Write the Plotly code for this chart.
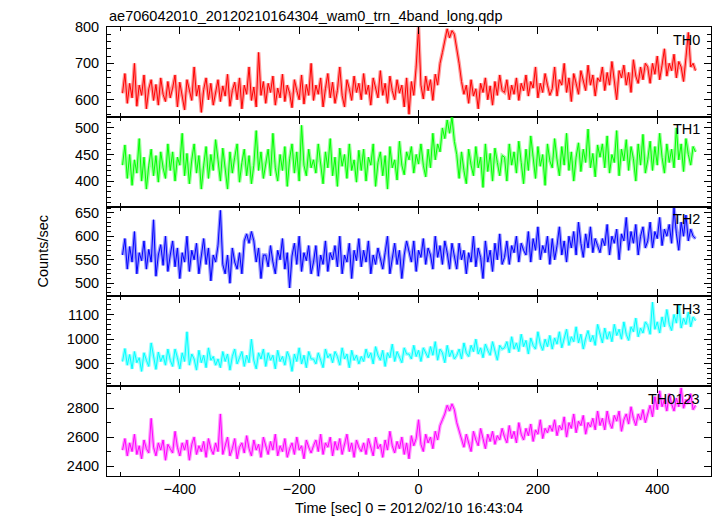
import plotly.graph_objects as go
from plotly.subplots import make_subplots

title_text = "ae706042010_20120210164304_wam0_trn_4band_long.qdp"
xlabel = "Time [sec] 0 = 2012/02/10 16:43:04"
ylabel = "Counts/sec"

t_start = -496
t_step = 4

TH0 = [618, 672, 590, 645, 605, 700, 582, 640, 612, 668, 575, 630, 655, 598, 642, 585, 660, 615, 595, 650,
       605, 632, 668, 580, 648, 610, 572, 655, 625, 598, 690, 610, 640, 565, 628, 660, 600, 645, 585, 622,
       655, 595, 638, 610, 670, 582, 625, 648, 600, 660, 575, 640, 615, 690, 598, 635, 580, 730, 612, 650,
       590, 645, 620, 665, 585, 632, 605, 670, 595, 640, 618, 578, 655, 625, 600, 668, 588, 642, 612, 700,
       598, 640, 615, 660, 580, 630, 672, 605, 648, 590, 625, 690, 612, 580, 655, 630, 598, 665, 620, 645,
       600, 672, 615, 640, 585, 660, 628, 605, 680, 612, 645, 590, 665, 625, 600, 655, 618, 640, 580, 660,
       560, 650, 612, 690, 800, 640, 602, 665, 625, 655, 598, 670, 640, 700, 730, 760, 795, 770, 790, 780,
       745, 700, 650, 615, 640, 590, 655, 610, 630, 575, 645, 620, 660, 600, 638, 585, 650, 612, 668, 625,
       620, 655, 600, 640, 615, 660, 598, 645, 625, 668, 610, 650, 632, 690, 605, 645, 620, 672, 640, 612,
       630, 690, 610, 655, 640, 700, 620, 660, 595, 672, 645, 615, 680, 650, 625, 695, 640, 668, 610, 660,
       650, 690, 625, 675, 640, 705, 655, 600, 680, 660, 695, 640, 675, 620, 710, 665, 645, 690, 655, 700,
       690, 645, 700, 670, 720, 655, 695, 740, 665, 700, 680, 725, 660, 705, 690, 650, 715, 785, 690, 700,
       680]
TH1 = [430, 468, 405, 450, 392, 440, 415, 480, 400, 445, 385, 430, 460, 410, 448, 398, 455, 425, 405, 470,
       420, 455, 400, 445, 430, 490, 410, 452, 395, 440, 470, 415, 448, 385, 430, 465, 405, 450, 420, 478,
       440, 400, 462, 425, 385, 455, 415, 445, 470, 398, 435, 460, 410, 448, 395, 430, 495, 420, 455, 405,
       435, 460, 410, 490, 425, 400, 450, 420, 465, 390, 442, 470, 415, 455, 400, 505, 430, 410, 460, 425,
       440, 415, 470, 430, 395, 455, 425, 480, 410, 445, 390, 462, 428, 450, 405, 470, 420, 440, 398, 458,
       420, 460, 400, 445, 430, 470, 390, 435, 455, 410, 448, 385, 465, 425, 440, 402, 475, 430, 412, 455,
       440, 465, 415, 450, 432, 470, 430, 408, 460, 425, 490, 440, 470, 455, 500, 480, 515, 490, 520, 475,
       450, 405, 455, 420, 395, 460, 430, 410, 465, 425, 445, 388, 470, 418, 452, 400, 462, 435, 410, 448,
       445, 400, 470, 430, 455, 415, 475, 435, 395, 460, 420, 485, 440, 405, 465, 428, 450, 392, 470, 438,
       425, 480, 440, 410, 465, 430, 490, 420, 455, 400, 445, 472, 418, 460, 435, 498, 425, 452, 408, 468,
       445, 470, 425, 485, 415, 450, 435, 495, 410, 460, 438, 478, 420, 465, 442, 400, 470, 430, 488, 415,
       440, 475, 420, 465, 430, 490, 445, 415, 470, 435, 460, 425, 500, 440, 470, 418, 480, 450, 430, 465,
       455]
TH2 = [560, 595, 530, 578, 545, 610, 520, 565, 548, 590, 530, 572, 545, 635, 515, 560, 582, 538, 600, 525,
       560, 590, 535, 575, 510, 565, 545, 600, 525, 570, 550, 585, 520, 562, 595, 540, 575, 505, 560, 545,
       580, 655, 540, 520, 560, 500, 575, 545, 530, 565, 520, 590, 605, 585, 610, 590, 545, 575, 510, 560,
       560, 535, 580, 545, 520, 570, 550, 595, 530, 565, 490, 558, 585, 540, 600, 525, 565, 548, 580, 520,
       545, 580, 515, 560, 540, 590, 525, 565, 550, 580, 535, 600, 520, 560, 545, 585, 510, 570, 548, 595,
       535, 570, 545, 590, 520, 560, 540, 575, 550, 530, 565, 600, 520, 555, 585, 540, 570, 510, 560, 590,
       565, 545, 590, 525, 570, 555, 595, 540, 575, 560, 530, 600, 555, 580, 540, 590, 565, 530, 585, 555,
       530, 585, 550, 570, 520, 565, 545, 600, 535, 575, 555, 510, 590, 545, 570, 525, 585, 550, 605, 540,
       555, 590, 540, 580, 565, 600, 545, 585, 570, 560, 610, 545, 595, 570, 620, 550, 580, 565, 600, 540,
       595, 550, 580, 620, 560, 590, 545, 600, 575, 610, 560, 630, 585, 555, 605, 575, 620, 565, 595, 580,
       565, 595, 580, 625, 560, 600, 585, 615, 550, 605, 590, 640, 570, 610, 585, 625, 560, 600, 620, 575,
       590, 630, 575, 610, 595, 640, 580, 615, 600, 625, 585, 660, 605, 570, 630, 600, 645, 590, 615, 600,
       595]
TH3 = [910, 962, 895, 938, 880, 950, 905, 925, 870, 945, 915, 890, 985, 925, 878, 948, 910, 935, 895, 960,
       915, 890, 960, 925, 880, 945, 910, 1030, 895, 940, 920, 875, 955, 905, 935, 885, 965, 915, 930, 895,
       920, 885, 950, 910, 940, 875, 930, 960, 900, 925, 950, 890, 935, 905, 1000, 915, 880, 945, 920, 960,
       890, 945, 915, 935, 880, 955, 910, 930, 895, 950, 925, 870, 940, 910, 965, 900, 935, 885, 950, 920,
       920, 900, 945, 915, 885, 960, 925, 940, 905, 950, 930, 895, 965, 920, 940, 885, 955, 915, 935, 900,
       930, 910, 960, 925, 945, 900, 970, 935, 915, 955, 890, 945, 925, 980, 910, 950, 930, 905, 965, 940,
       940, 920, 975, 930, 955, 910, 965, 945, 925, 970, 935, 990, 915, 960, 945, 905, 975, 930, 955, 920,
       935, 960, 920, 985, 945, 930, 975, 950, 1000, 940, 965, 925, 980, 955, 935, 990, 950, 915, 975, 960,
       965, 990, 945, 1010, 960, 985, 950, 1020, 970, 995, 940, 1005, 975, 960, 1030, 980, 955, 1000, 970, 1015,
       960, 1005, 980, 1030, 965, 1000, 1040, 975, 1010, 990, 1050, 985, 1020, 960, 1005, 1035, 990, 1015, 975, 1060,
       1025, 985, 1045, 1000, 1030, 990, 1060, 1015, 1040, 1000, 1070, 1020, 995, 1050, 1030, 1085, 1010, 1045, 1025, 1070,
       1055, 1020, 1150, 1040, 1070, 1025, 1090, 1050, 1120, 1060, 1035, 1100, 1065, 1140, 1045, 1085, 1060, 1110, 1050, 1090,
       1075]
TH0123 = [2510, 2590, 2470, 2560, 2500, 2620, 2480, 2540, 2450, 2580, 2520, 2490, 2730, 2530, 2470, 2560, 2510, 2580, 2440, 2550,
          2520, 2490, 2640, 2530, 2470, 2560, 2510, 2580, 2440, 2550, 2600, 2480, 2540, 2500, 2570, 2460, 2590, 2520, 2480, 2560,
          2500, 2760, 2480, 2540, 2600, 2470, 2520, 2590, 2450, 2530, 2560, 2490, 2610, 2520, 2470, 2580, 2510, 2550, 2460, 2600,
          2530, 2480, 2570, 2510, 2620, 2470, 2540, 2500, 2590, 2460, 2520, 2560, 2480, 2600, 2510, 2540, 2450, 2580, 2530, 2490,
          2540, 2580, 2500, 2620, 2480, 2560, 2530, 2600, 2470, 2570, 2510, 2590, 2480, 2550, 2620, 2500, 2560, 2460, 2580, 2530,
          2500, 2560, 2480, 2590, 2530, 2470, 2600, 2520, 2550, 2460, 2580, 2510, 2640, 2540, 2490, 2570, 2520, 2600, 2480, 2560,
          2450, 2610, 2540, 2590, 2720, 2550, 2500, 2620, 2560, 2600, 2520, 2640, 2580, 2680, 2720, 2760, 2820, 2780, 2830, 2790,
          2700, 2640, 2580, 2530, 2620, 2560, 2500, 2640, 2580, 2540, 2660, 2590, 2520, 2620, 2570, 2640, 2550, 2610, 2580, 2660,
          2600, 2560, 2680, 2590, 2640, 2560, 2700, 2620, 2580, 2660, 2610, 2690, 2570, 2650, 2620, 2720, 2590, 2660, 2630, 2680,
          2640, 2720, 2610, 2680, 2650, 2740, 2600, 2700, 2660, 2760, 2630, 2710, 2680, 2750, 2620, 2700, 2670, 2730, 2650, 2780,
          2680, 2730, 2650, 2780, 2700, 2660, 2750, 2710, 2780, 2640, 2720, 2760, 2690, 2810, 2730, 2680, 2760, 2720, 2790, 2700,
          2760, 2820, 2740, 2880, 2790, 2920, 2810, 2860, 2780, 2900, 2830, 2780, 2870, 2810, 2940, 2800, 2860, 2830, 2900, 2790,
          2820]

band_names = ["TH0", "TH1", "TH2", "TH3", "TH0123"]
series = [TH0, TH1, TH2, TH3, TH0123]
colors = ["#ff0000", "#00ff00", "#0000ff", "#00ffff", "#ff00ff"]
y_ranges = [[553, 800], [352, 521], [472, 663], [810, 1173], [2331, 2952]]
y_dticks = [100, 50, 50, 100, 200]
y_minor = [20, 10, 10, 20, 100]

times = [t_start + t_step * i for i in range(len(TH0))]

FONT = "Liberation Sans, Arial, Helvetica"
FS = 14.5

fig = make_subplots(rows=5, cols=1, shared_xaxes=True, vertical_spacing=0)

for k, (name, vals, col) in enumerate(zip(band_names, series, colors)):
    fig.add_trace(go.Scatter(x=times, y=vals, mode="lines",
                             line=dict(color=col, width=3.5), opacity=0.4,
                             hoverinfo="skip", showlegend=False), row=k + 1, col=1)
    fig.add_trace(go.Scatter(x=times, y=vals, mode="lines",
                             line=dict(color=col, width=1),
                             name=name, showlegend=False), row=k + 1, col=1)
    fig.update_yaxes(range=y_ranges[k], dtick=y_dticks[k], row=k + 1, col=1,
                     ticks="inside", ticklen=7, tickcolor="black", mirror="allticks",
                     showline=True, linecolor="black", linewidth=1,
                     showgrid=False, zeroline=False, ticklabelstandoff=4,
                     minor=dict(ticks="inside", ticklen=4, dtick=y_minor[k], tickcolor="black"),
                     tickfont=dict(family=FONT, size=FS, color="black"))
    fig.update_xaxes(range=[-522, 490], dtick=200, row=k + 1, col=1,
                     ticks="inside", ticklen=7, tickcolor="black", mirror="allticks",
                     showline=True, linecolor="black", linewidth=1,
                     showgrid=False, zeroline=False,
                     minor=dict(ticks="inside", ticklen=4, dtick=100, tickcolor="black"),
                     showticklabels=(k == 4),
                     tickfont=dict(family=FONT, size=FS, color="black"))
    fig.add_annotation(text=name, xref="x domain", yref="y domain",
                       x=0.985, y=0.97, xanchor="right", yanchor="top",
                       showarrow=False,
                       font=dict(family=FONT, size=FS, color="black"),
                       row=k + 1, col=1)

fig.add_annotation(text=title_text, xref="paper", yref="paper", x=0, y=1.0,
                   xanchor="left", yanchor="bottom", yshift=1, showarrow=False,
                   font=dict(family=FONT, size=FS, color="black"))
fig.add_annotation(text=xlabel, xref="paper", yref="paper", x=0.5, y=0,
                   xanchor="center", yanchor="top", yshift=-22, showarrow=False,
                   font=dict(family=FONT, size=FS, color="black"))
fig.add_annotation(text=ylabel, xref="paper", yref="paper", x=0, y=0.5,
                   xanchor="center", yanchor="middle", xshift=-65, textangle=-90,
                   showarrow=False,
                   font=dict(family=FONT, size=FS, color="black"))

fig.update_layout(width=717, height=516, margin=dict(l=107, r=6, t=27, b=40),
                  plot_bgcolor="white", paper_bgcolor="white")

fig.write_html("out.html", config={"displayModeBar": False},
               post_script="document.body.style.margin='0';")
